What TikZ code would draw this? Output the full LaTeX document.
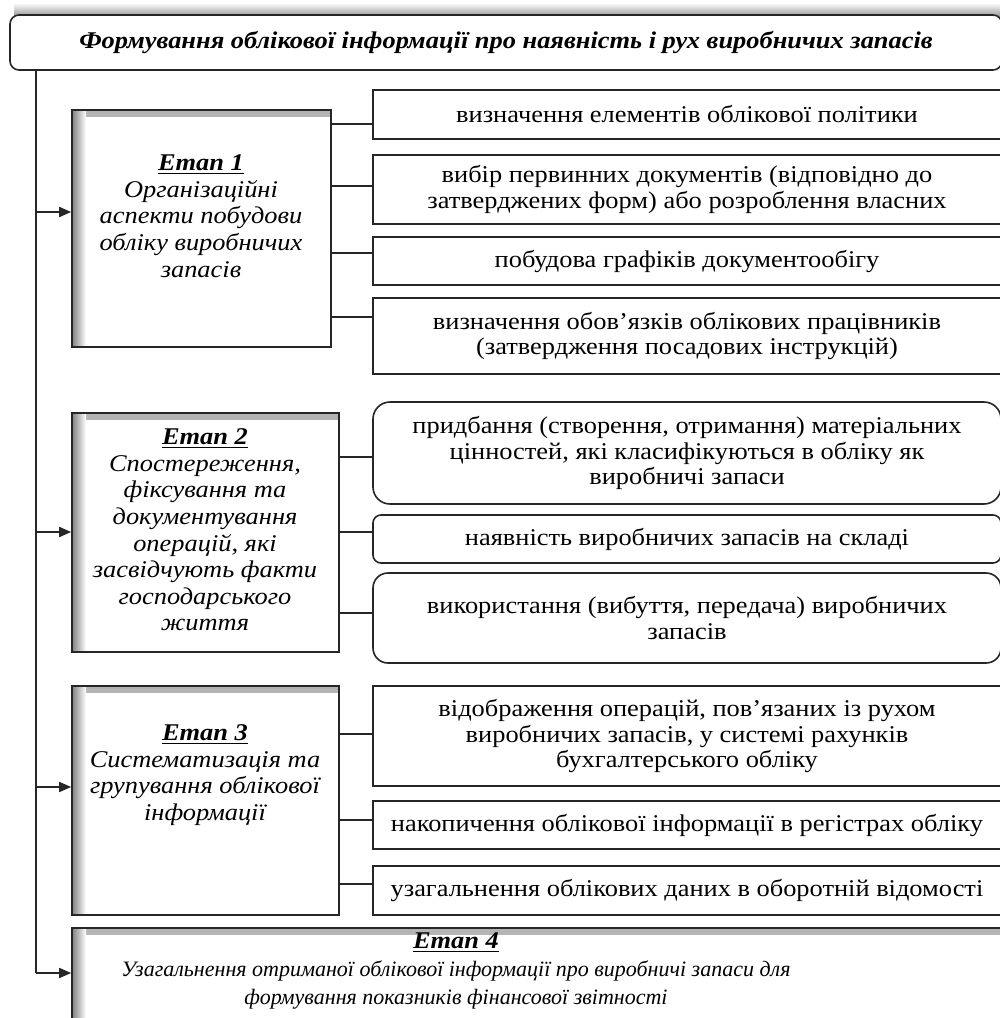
\documentclass[tikz,border=0pt]{standalone}
\usepackage{fontspec}
\setmainfont{Liberation Serif}[FakeStretch=1.1]
\newfontfamily\plainserif{Liberation Serif}
\usetikzlibrary{arrows.meta}
\newcommand{\bx}[7]{\node[#6, minimum width={(#4-#2)*0.5pt}, minimum height={(#5-#3)*0.5pt}] (#1) at ({(#2+#4)/2},{(#3+#5)/2}) {#7};}
\newcommand{\et}[1]{\textbf{\underline{#1}}}
\begin{document}
\begin{tikzpicture}[x=0.5pt,y=-0.5pt,
  base/.style={draw=black!85, line width=0.8pt, inner sep=0pt, align=center, font=\fontsize{12}{12.9}\selectfont},
  rbox/.style={base},
  rrbox/.style={base, rounded corners=#1},
  stagebox/.style={base, path picture={
      \shade[top color=black!30, bottom color=white] (path picture bounding box.north west) rectangle ([yshift=-3pt]path picture bounding box.north east);
      \shade[left color=black!50, right color=white] (path picture bounding box.north west) rectangle ([xshift=7pt]path picture bounding box.south west);
    }},
  stagetext/.style={align=center, inner sep=0pt, font=\fontsize{12}{13.3}\selectfont\itshape},
  line/.style={draw=black!85, line width=0.8pt},
  arr/.style={line, -{Triangle[length=6pt,width=5pt]}}
]
\useasboundingbox (0,0) rectangle (1000,1018);
\clip (0,0) rectangle (1000,1018);

% title shadow and box
\shade[top color=white, bottom color=black!40] (14,3) rectangle (1010,16);
\bx{title}{10}{15}{1002}{70}{base, rounded corners=4.5pt, fill=white, font=\fontsize{12}{13}\selectfont\bfseries\itshape}{Формування облікової інформації про наявність і рух виробничих запасів}

% stage boxes
\bx{e1}{72}{110}{331}{347}{stagebox}{}
\bx{e2}{72}{413}{339}{652}{stagebox}{}
\bx{e3}{72}{686}{339}{915}{stagebox}{}
\bx{e4}{72}{928}{1010}{1100}{stagebox}{}

\node[stagetext] (e1t) at (201,216) {\et{Етап 1}\\Організаційні\\аспекти побудови\\обліку виробничих\\запасів};
\node[stagetext] (e2t) at (205,530) {\et{Етап 2}\\Спостереження,\\фіксування та\\документування\\операцій, які\\засвідчують факти\\господарського\\життя};
\node[stagetext] (e3t) at (205,775) {\et{Етап 3}\\Систематизація та\\групування облікової\\інформації};
\node[stagetext, font=\fontsize{12}{14}\selectfont\itshape] (e4t) at (456,971) {\et{Етап 4}\\{\plainserif\fontsize{11}{14}\selectfont Узагальнення отриманої облікової інформації про виробничі запаси для}\\{\plainserif\fontsize{11}{14}\selectfont формування показників фінансової звітності}};

% right boxes stage 1
\bx{r11}{373}{90}{1001}{139}{rbox}{визначення елементів облікової політики}
\bx{r12}{373}{155}{1001}{224}{rbox}{вибір первинних документів (відповідно до\\затверджених форм) або розроблення власних}
\bx{r13}{373}{237}{1001}{285}{rbox}{побудова графіків документообігу}
\bx{r14}{373}{298}{1001}{374}{rbox}{визначення обов’язків облікових працівників\\(затвердження посадових інструкцій)}

% right boxes stage 2
\bx{r21}{373}{402}{1001}{504}{rrbox=8.5pt}{придбання (створення, отримання) матеріальних\\цінностей, які класифікуються в обліку як\\виробничі запаси}
\bx{r22}{373}{515}{1001}{563}{rrbox=4pt}{наявність виробничих запасів на складі}
\bx{r23}{373}{573}{1001}{663}{rrbox=7.5pt}{використання (вибуття, передача) виробничих\\запасів}

% right boxes stage 3
\bx{r31}{373}{686}{1001}{786}{rbox}{відображення операцій, пов’язаних із рухом\\виробничих запасів, у системі рахунків\\бухгалтерського обліку}
\bx{r32}{373}{801}{1001}{849}{rbox}{накопичення облікової інформації в регістрах обліку}
\bx{r33}{373}{866}{1001}{915}{rbox}{узагальнення облікових даних в оборотній відомості}

% trunk and arrows
\coordinate (t0) at (36,70);
\coordinate (a1) at (36,212);
\coordinate (a2) at (36,532);
\coordinate (a3) at (36,787);
\coordinate (a4) at (36,973);
\draw[line] (t0) -- (a4);
\draw[arr] (a1) -- (a1 -| e1.west);
\draw[arr] (a2) -- (a2 -| e2.west);
\draw[arr] (a3) -- (a3 -| e3.west);
\draw[arr] (a4) -- (a4 -| e4.west);

% connectors
\draw[line] (e1.east |- 0,124) -- (r11.west |- 0,124);
\draw[line] (e1.east |- 0,186) -- (r12.west |- 0,186);
\draw[line] (e1.east |- 0,253) -- (r13.west |- 0,253);
\draw[line] (e1.east |- 0,317) -- (r14.west |- 0,317);
\draw[line] (e2.east |- 0,457) -- (r21.west |- 0,457);
\draw[line] (e2.east |- 0,532) -- (r22.west |- 0,532);
\draw[line] (e2.east |- 0,613) -- (r23.west |- 0,613);
\draw[line] (e3.east |- 0,734) -- (r31.west |- 0,734);
\draw[line] (e3.east |- 0,820) -- (r32.west |- 0,820);
\draw[line] (e3.east |- 0,884) -- (r33.west |- 0,884);
\end{tikzpicture}
\end{document}
